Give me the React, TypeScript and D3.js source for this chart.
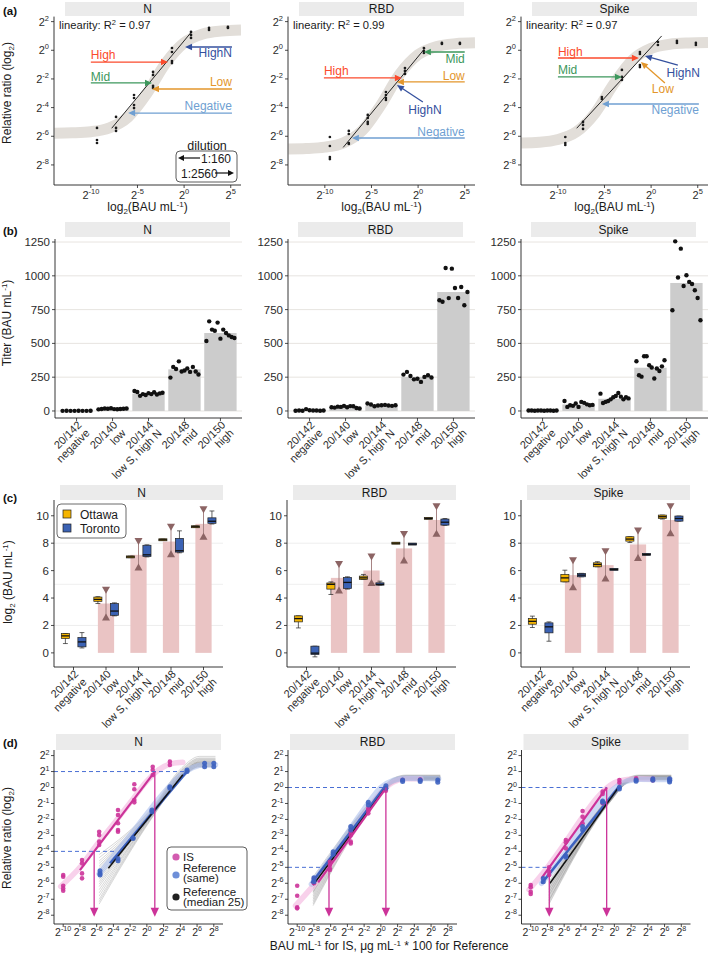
import React from 'react';
import * as d3 from 'd3';

const FONT = "'Liberation Sans', Arial, Helvetica, sans-serif";
const TXT = '#2b2b2b';
const AX = '#1f1f1f';

/* ---------------- shared categories ---------------- */
const facetNames = ['N', 'RBD', 'Spike'];
const sampleIds = ['20/142', '20/140', '20/144', '20/148', '20/150'];
const sampleNames = ['negative', 'low', 'low S, high N', 'mid', 'high'];

/* ---------------- (a) calibration curves ---------------- */
const aR2 = ['0.97', '0.99', '0.97'];
const aXTicks = [-10, -5, 0, 5];
const aYTicks = [2, 0, -2, -4, -6, -8];
const aPointsN = [
  [-9.34, -5.42], [-9.34, -6.26], [-9.34, -6.47],
  [-7.3, -4.65], [-7.3, -5.42], [-7.3, -5.63],
  [-5.37, -3.12], [-5.37, -3.33], [-5.37, -3.82], [-5.37, -4.03],
  [-3.33, -1.51], [-3.33, -1.72], [-3.33, -2.49], [-3.33, -2.63],
  [-1.3, 0.16], [-1.3, -0.12], [-1.3, -0.75], [-1.3, -0.89],
  [0.74, 1.28], [0.74, 1.07], [0.74, 0.86],
  [2.67, 1.56], [2.67, 1.42],
  [4.7, 1.63], [4.7, 1.56],
];
const aPointsRBD = [
  [-9.46, -6.05], [-9.46, -6.68], [-9.46, -7.45], [-9.46, -7.59],
  [-7.43, -5.63], [-7.43, -5.84], [-7.43, -6.47], [-7.43, -6.54],
  [-5.4, -4.51], [-5.4, -4.72], [-5.4, -5.0], [-5.4, -5.14],
  [-3.45, -2.91], [-3.45, -3.12], [-3.45, -3.33], [-3.45, -3.47],
  [-1.41, -1.24], [-1.41, -1.44], [-1.41, -1.65],
  [0.62, 0.16], [0.62, -0.05], [0.62, -0.19],
  [2.55, 0.51], [2.55, 0.44],
  [4.48, 0.51], [4.48, 0.44],
];
const aPointsSpike = [
  [-9.2, -6.05], [-9.2, -6.47], [-9.2, -6.61],
  [-7.3, -5.0], [-7.3, -5.21], [-7.3, -5.49],
  [-5.28, -3.26], [-5.28, -3.4],
  [-3.13, -1.37], [-3.13, -1.86], [-3.13, -2.07],
  [-1.2, -0.12], [-1.2, -0.26], [-1.2, -1.03], [-1.2, -1.17],
  [0.73, 0.58], [0.73, 0.37],
  [2.77, 0.65], [2.77, 0.51],
  [4.8, 0.51], [4.8, 0.37],
];
const aBandN = [[-13.9, -5.79], [-12, -5.76], [-10, -5.68], [-8, -5.41], [-6, -4.66], [-4, -3.03], [-2, -0.92], [0, 0.52], [2, 1.14], [4, 1.35], [6.1, 1.42]];
const aBandRBD = [[-13.9, -6.89], [-12, -6.86], [-10, -6.76], [-8, -6.46], [-6, -5.61], [-4, -3.83], [-2, -1.69], [0, -0.31], [2, 0.27], [4, 0.46], [6.1, 0.52]];
const aBandSpike = [[-13.9, -6.47], [-12, -6.42], [-10, -6.23], [-8, -5.69], [-6, -4.38], [-4, -2.35], [-2, -0.67], [0, 0.13], [2, 0.42], [4, 0.51], [6.1, 0.54]];
// linear fit: slope, intercept, xmin, xmax
const aFitN = [0.786, 0.66, -7.76, 0.81];
const aFitRBD = [0.789, -0.44, -8.03, 0.73];
const aFitSpike = [0.707, 0.2, -7.98, 1.13];
const aArrowNames = ['High', 'HighN', 'Mid', 'Low', 'Negative'];
const aArrowColors = ['#fb4a2c', '#34509e', '#3d975c', '#e3962b', '#6f9fd2'];
// tail x, tail y, tip x, tip y, label x, label y, anchor
const aArrowsN = [
  [-10.0, -0.82, -1.73, -0.82, -10.0, -0.33, 'start'],
  [5.13, 0.23, 0.1, 0.23, 5.13, -0.19, 'end'],
  [-10.0, -2.28, -3.44, -2.28, -10.0, -1.86, 'start'],
  [5.13, -2.7, -3.44, -2.7, 5.13, -2.21, 'end'],
  [5.13, -4.38, -6.0, -4.38, 5.13, -3.89, 'end'],
];
const aArrowsRBD = [
  [-10.1, -1.93, -1.74, -1.93, -10.1, -1.44, 'start'],
  [0.51, -3.61, -2.27, -2.42, 0.73, -4.17, 'middle'],
  [5.0, -0.12, 0.62, -0.12, 5.0, -0.6, 'end'],
  [5.0, -2.21, -2.27, -2.21, 5.0, -1.79, 'end'],
  [5.0, -6.12, -7.1, -6.12, 5.0, -5.7, 'end'],
];
const aArrowsSpike = [
  [-9.99, -0.54, -1.31, -0.54, -9.99, -0.12, 'start'],
  [2.87, -1.03, -0.66, -0.4, 5.23, -1.58, 'end'],
  [-9.99, -1.86, -3.13, -1.86, -9.99, -1.37, 'start'],
  [1.48, -2.28, -1.09, -0.82, 1.26, -2.7, 'middle'],
  [5.12, -3.75, -5.27, -3.75, 5.12, -4.17, 'end'],
];
const aDilution = ['1:160', '1:2560'];

/* ---------------- (b) titers ---------------- */
const bYTicks = [0, 250, 500, 750, 1000, 1250];
const bBarN = [2, 15, 128, 308, 577];
const bBarRBD = [3, 25, 38, 252, 880];
const bBarSpike = [3, 48, 90, 320, 947];
const bPtsN = [
  [1, 2, 1, 1, 2, 1, 1, 2],
  [12, 15, 18, 16, 20, 14, 13, 15, 16, 18],
  [148, 140, 112, 125, 118, 132, 125, 138, 122, 130, 135],
  [247, 326, 310, 367, 292, 299, 315, 289, 326, 292, 270],
  [518, 663, 602, 594, 654, 535, 602, 577, 559, 547, 540],
];
const bPtsRBD = [
  [2, 3, 2, 14, 5, 3, 4, 2, 3],
  [28, 25, 32, 30, 38, 28, 36, 35, 22, 18],
  [55, 48, 35, 40, 42, 45, 40, 38, 42],
  [269, 289, 259, 234, 238, 215, 252, 264, 248],
  [819, 808, 1058, 835, 1053, 910, 836, 917, 782, 880],
];
const bPtsSpike = [
  [3, 3, 2, 4, 3, 2, 3, 3, 2, 3],
  [74, 30, 42, 38, 55, 30, 67, 60, 49, 42, 45],
  [128, 59, 67, 74, 86, 101, 111, 133, 106, 86, 101, 93],
  [368, 264, 254, 405, 405, 338, 322, 240, 314, 296, 330, 375],
  [745, 1255, 987, 1201, 925, 1004, 955, 940, 893, 836, 671],
];

/* ---------------- (c) log2 titers by site ---------------- */
const cYTicks = [0, 2, 4, 6, 8, 10];
const cGrid = [2, 5, 8];
const cSites = ['Ottawa', 'Toronto'];
const cBarN = [null, 3.6, 7.15, 8.12, 9.41];
const cTriHiN = [null, 4.56, 8.12, 9.17, 10.43];
const cTriLoN = [null, 2.62, 6.26, 7.23, 8.51];
const cOttN = [[0.68, 1.05, 1.24, 1.41, 1.41], [3.6, 3.76, 3.9, 4.07, 4.1], [6.95, 6.97, 7.0, 7.03, 7.05], [8.2, 8.22, 8.25, 8.28, 8.3], [9.15, 9.18, 9.2, 9.22, 9.25]];
const cTorN = [[0.36, 0.44, 0.8, 1.12, 1.48], [2.7, 2.74, 3.05, 3.6, 3.65], [7.0, 7.03, 7.15, 7.85, 7.88], [7.3, 7.35, 7.45, 8.35, 8.9], [9.4, 9.45, 9.6, 9.85, 10.35]];
const cBarRBD = [null, 5.47, 6.01, 7.62, 9.69];
const cTriHiRBD = [null, 6.45, 7.0, 8.64, 10.66];
const cTriLoRBD = [null, 4.58, 5.14, 6.77, 8.72];
const cOttRBD = [[1.82, 2.26, 2.5, 2.7, 2.7], [4.26, 4.65, 5.0, 5.1, 5.18], [5.36, 5.36, 5.47, 5.6, 5.72], [7.97, 7.98, 8.0, 8.02, 8.03], [9.77, 9.78, 9.81, 9.84, 9.85]];
const cTorRBD = [[-0.29, -0.12, -0.02, 0.49, 0.49], [4.65, 4.7, 5.14, 5.5, 5.55], [4.94, 4.94, 5.0, 5.11, 5.23], [7.91, 7.92, 7.93, 7.95, 7.96], [9.3, 9.32, 9.53, 9.76, 9.8]];
const cBarSpike = [null, 5.67, 6.4, 7.91, 9.69];
const cTriHiSpike = [null, 6.72, 7.37, 8.88, 10.66];
const cTriLoSpike = [null, 4.82, 5.47, 6.96, 8.76];
const cOttSpike = [[1.85, 2.09, 2.3, 2.51, 2.68], [5.18, 5.18, 5.47, 5.72, 6.03], [6.28, 6.28, 6.45, 6.57, 6.65], [8.05, 8.15, 8.3, 8.47, 8.47], [9.76, 9.81, 9.93, 10.05, 10.05]];
const cTorSpike = [[0.85, 1.46, 1.9, 2.19, 2.26], [5.55, 5.55, 5.67, 5.8, 5.8], [6.07, 6.08, 6.09, 6.1, 6.11], [7.16, 7.17, 7.18, 7.2, 7.21], [9.61, 9.61, 9.8, 9.98, 9.98]];

/* ---------------- (d) IS vs reference ---------------- */
const dYTicks = [2, 1, 0, -1, -2, -3, -4, -5, -6, -7, -8];
const dXTicks = [-10, -8, -6, -4, -2, 0, 2, 4, 6, 8];
const dIsPtsN = [
  [-10, -5.48], [-10, -5.59], [-10, -6.15], [-10, -6.32], [-10, -6.47],
  [-7.75, -4.54], [-7.75, -4.75], [-7.75, -5.38], [-7.75, -5.69],
  [-5.7, -2.77], [-5.7, -2.98], [-5.7, -3.39], [-5.7, -3.6],
  [-3.45, -1.41], [-3.45, -1.72], [-3.45, -2.24], [-3.45, -2.66], [-3.45, -2.77],
  [-1.5, 0.2], [-1.5, -0.11], [-1.5, -0.78], [-1.5, -0.93],
  [0.7, 1.3], [0.7, 1.1], [0.7, 0.78],
  [2.75, 1.62], [2.75, 1.41],
];
const dRefPtsN = [
  [-5.6, -5.21], [-5.6, -5.38], [-5.6, -5.48],
  [-3.45, -4.44], [-3.45, -4.58],
  [-1.65, -3.14], [-1.65, -3.2],
  [0.6, -1.41], [0.6, -1.52],
  [2.75, 0.05], [2.75, -0.05],
  [4.8, 1.1], [4.8, 1.0],
  [6.9, 1.52], [6.9, 1.3],
  [8.0, 1.52], [8.0, 1.3],
];
const dIsPtsRBD = [
  [-10, -6.15], [-10, -6.78], [-10, -7.51], [-10, -7.57],
  [-8, -5.7], [-8, -6.0],
  [-6.1, -4.65], [-6.1, -4.86], [-6.1, -5.06], [-6.1, -5.17],
  [-3.6, -2.77], [-3.6, -2.98], [-3.6, -3.39], [-3.6, -3.5],
  [-1.5, -1.3], [-1.5, -1.45], [-1.5, -1.62],
  [0.6, -0.05], [0.6, -0.2],
  [2.6, 0.47],
  [4.7, 0.47], [4.7, 0.5],
];
const dRefPtsRBD = [
  [-8, -5.65], [-8, -5.8], [-8, -5.9],
  [-5.7, -4.02], [-5.7, -4.18],
  [-3.6, -2.45], [-3.6, -2.66],
  [-1.5, -0.93], [-1.5, -1.1],
  [0.6, 0.11], [0.6, -0.05],
  [2.6, 0.47], [2.6, 0.37],
  [4.7, 0.47], [4.7, 0.37],
  [6.8, 0.47], [6.8, 0.33],
];
const dIsPtsSpike = [
  [-10, -6.11], [-10, -6.25], [-10, -6.53], [-10, -6.67],
  [-7.8, -5.0], [-7.8, -5.27], [-7.8, -5.48],
  [-5.8, -3.29], [-5.8, -3.43], [-5.8, -3.81],
  [-3.8, -1.47], [-3.8, -1.83], [-3.8, -2.24],
  [-1.4, -0.26], [-1.4, -0.4], [-1.4, -0.99],
  [0.6, 0.47], [0.6, 0.3],
  [2.6, 0.57], [2.6, 0.5],
  [4.6, 0.55], [4.6, 0.45],
  [6.6, 0.5],
];
const dRefPtsSpike = [
  [-8.5, -5.9], [-8.5, -5.7],
  [-5.8, -4.27], [-5.8, -4.37],
  [-3.8, -2.45], [-3.8, -2.66],
  [-1.4, -0.85], [-1.4, -0.93],
  [0.6, 0.01], [0.6, -0.09],
  [2.6, 0.47], [2.6, 0.4],
  [4.6, 0.55], [4.6, 0.45],
  [6.6, 0.55], [6.6, 0.35], [6.6, 0.45],
];
const dIsBandN = [[-10.3, -6.2], [-8, -5.0], [-6, -3.6], [-4, -2.3], [-2, -0.95], [0, 0.4], [1.5, 1.15], [3, 1.5], [4.3, 1.58]];
const dRefBandN = [[-5.7, -5.4], [-4, -4.3], [-2, -3.0], [0, -1.65], [2, -0.35], [4, 0.75], [5.5, 1.25], [7, 1.42], [8.2, 1.42]];
const dIsBandRBD = [[-10.2, -7.4], [-8, -6.1], [-6, -4.8], [-4, -3.3], [-2, -1.7], [0, -0.3], [1.5, 0.35], [3, 0.55], [4.8, 0.55]];
const dRefBandRBD = [[-8.3, -6.05], [-6, -4.4], [-4, -2.85], [-2, -1.35], [0, 0], [1.5, 0.45], [3, 0.58], [6.9, 0.55]];
const dIsBandSpike = [[-10.2, -6.4], [-8, -5.0], [-6, -3.55], [-4, -2.0], [-2, -0.6], [0, 0.3], [1.5, 0.5], [3, 0.55], [4.6, 0.52]];
const dRefBandSpike = [[-8.7, -6.0], [-6, -4.2], [-4, -2.6], [-2, -1.15], [0, -0.05], [1.5, 0.4], [3, 0.52], [6.7, 0.5]];
// linear fits: slope, intercept, xmin, xmax
const dIsFit = [[0.69, 0.345, -8.0, 0.95], [0.73, -0.47, -7.5, 0.6], [0.729, 0.67, -8.7, -0.9]];
const dRefFit = [[0.626, -1.99, -4.4, 4.8], [0.6875, -0.29, -8.3, 0.5], [0.654, -0.32, -8.7, 0.5]];
const dMedFit = [[0.657, -2.03, -4.6, 4.3], [0.701, -0.43, -8.1, 0.6], [0.733, -0.35, -7.7, 0.47]];
// cut-off ratios, read-out concentrations, end of dashed guides
const dCutY = [[-4, 1], [-5, 0], [-5, 0]];
const dCutX = [[-6.3, 0.95], [-6.2, 0.6], [-7.78, -0.92]];
const dDashEnd = [[-3.6, 4.75], [-7.1, 0.55], [-7.9, -0.92]];
// 20 reference curves (median 25): knots x, y at start / convergence / plateau
const dSpagX = [[-5.7, 0.5, 4.2, 6.3, 8.2], [-8.1, -1, 1.5, 3, 7.1], [-7.8, -0.5, 1.5, 3, 6.8]];
const dSpagDrop = [0.7, 0.2, 0.2];
const dSpagLow = [
  [-4.2, -4.4, -4.6, -4.75, -4.9, -5.0, -5.15, -5.3, -5.45, -5.6, -5.75, -5.9, -6.05, -6.2, -6.4, -6.6, -6.8, -7.0, -7.15, -7.3],
  [-5.6, -5.75, -5.9, -6.0, -6.1, -6.2, -6.3, -6.35, -6.4, -6.5, -6.55, -6.6, -6.7, -6.8, -6.9, -7.0, -7.1, -7.2, -7.3, -7.4],
  [-5.9, -6.0, -6.1, -6.15, -6.2, -6.3, -6.35, -6.4, -6.5, -6.55, -6.6, -6.7, -6.75, -6.8, -6.9, -7.0, -7.05, -7.1, -7.2, -7.3],
];
const dSpagMid = [
  [-1.35, -1.4, -1.45, -1.5, -1.5, -1.55, -1.55, -1.6, -1.6, -1.65, -1.65, -1.7, -1.7, -1.75, -1.8, -1.8, -1.85, -1.9, -1.95, -2.0],
  [-0.75, -0.78, -0.8, -0.83, -0.85, -0.88, -0.9, -0.92, -0.95, -0.97, -1.0, -1.0, -1.02, -1.05, -1.07, -1.1, -1.12, -1.15, -1.17, -1.2],
  [-0.5, -0.52, -0.55, -0.57, -0.6, -0.62, -0.64, -0.66, -0.68, -0.7, -0.72, -0.74, -0.76, -0.78, -0.8, -0.82, -0.84, -0.86, -0.88, -0.9],
];
const dSpagHigh = [
  [1.95, 1.85, 1.8, 1.75, 1.7, 1.65, 1.6, 1.6, 1.55, 1.55, 1.5, 1.5, 1.45, 1.45, 1.4, 1.4, 1.35, 1.35, 1.3, 1.3],
  [0.78, 0.75, 0.72, 0.7, 0.68, 0.66, 0.65, 0.63, 0.62, 0.6, 0.59, 0.58, 0.56, 0.55, 0.54, 0.52, 0.5, 0.49, 0.47, 0.45],
  [0.78, 0.75, 0.73, 0.71, 0.69, 0.67, 0.66, 0.64, 0.63, 0.62, 0.6, 0.59, 0.58, 0.56, 0.55, 0.54, 0.52, 0.5, 0.49, 0.47],
];
const dLegend = [['IS'], ['Reference', '(same)'], ['Reference', '(median 25)']];

/* ---------------- layout ---------------- */
const aLefts = [54, 288, 521];
const bLefts = [55, 288, 521];
const cLefts = [54, 287, 521];
const dLefts = [54, 288, 521.5];

const MAG = '#cc3399';
const BLUE = '#3d62c0';

function Strip({ x0, x1, y0, y1, label }: any) {
  return (
    <g>
      <rect x={x0} y={y0} width={x1 - x0} height={y1 - y0} fill="#ebebeb" />
      <text x={(x0 + x1) / 2} y={(y0 + y1) / 2 + 4.3} textAnchor="middle" fontSize={12} fill="#1a1a1a">{label}</text>
    </g>
  );
}

function Pow2({ x, y, e, anchor = 'middle', fs = 11 }: any) {
  return (
    <text x={x} y={y} textAnchor={anchor} fontSize={fs} fill={TXT}>
      2<tspan dy={-fs * 0.45} fontSize={fs * 0.68}>{String(e)}</tspan>
    </text>
  );
}

function Arrow({ x1, y1, x2, y2, color, w = 1.3, len = 7, half = 3.2 }: any) {
  const dx = x2 - x1, dy = y2 - y1;
  const L = Math.hypot(dx, dy) || 1;
  const ux = dx / L, uy = dy / L;
  const bx = x2 - ux * len, by = y2 - uy * len;
  const nx = -uy, ny = ux;
  return (
    <g>
      <line x1={x1} y1={y1} x2={bx + ux * 0.5} y2={by + uy * 0.5} stroke={color} strokeWidth={w} />
      <polygon points={`${x2},${y2} ${bx + nx * half},${by + ny * half} ${bx - nx * half},${by - ny * half}`} fill={color} />
    </g>
  );
}

function RotLabel({ x, y, lines }: any) {
  return (
    <g transform={`translate(${x},${y}) rotate(-45)`}>
      {lines.map((t: string, i: number) => (
        <text key={i} x={0} y={8 + i * 11.5} textAnchor="end" fontSize={11} fill={TXT}>{t}</text>
      ))}
    </g>
  );
}

/* ================= Panel (a) ================= */
function PanelA({ fi }: { fi: number }) {
  const L = aLefts[fi];
  const W = 187;
  const x = d3.scaleLinear().domain([-13.95, 6.1]).range([L, L + W]);
  const y = d3.scaleLinear().domain([-9.4, 2.35]).range([185, 16.6]);
  const pts = [aPointsN, aPointsRBD, aPointsSpike][fi];
  const band = [aBandN, aBandRBD, aBandSpike][fi];
  const fit = [aFitN, aFitRBD, aFitSpike][fi];
  const arrows = [aArrowsN, aArrowsRBD, aArrowsSpike][fi];
  const curve = d3.line<any>().x((d) => x(d[0])).y((d) => y(d[1])).curve(d3.curveMonotoneX);
  const fitLine = d3.line<number>().x((v) => x(v)).y((v) => y(fit[0] * v + fit[1]))([fit[2], fit[3]]);
  const cid = `clipA${fi}`;
  return (
    <g>
      <Strip x0={L + 11} x1={L + 176} y0={2} y1={16} label={facetNames[fi]} />
      <defs>
        <clipPath id={cid}><rect x={L} y={16.6} width={W} height={168.4} /></clipPath>
      </defs>
      <path d={curve(band) || ''} fill="none" stroke="#e2ded9" strokeWidth={11} clipPath={`url(#${cid})`} />
      {pts.map((p, i) => (
        <circle key={i} cx={x(p[0])} cy={y(p[1])} r={1.35} fill="#1a1a1a" />
      ))}
      <path d={fitLine || ''} stroke="#111" strokeWidth={0.9} fill="none" />
      {arrows.map((a: any, i: number) => (
        <g key={i}>
          <Arrow x1={x(a[0])} y1={y(a[1])} x2={x(a[2])} y2={y(a[3])} color={aArrowColors[i]} />
          <text x={x(a[4])} y={y(a[5]) + 4.3} textAnchor={a[6]} fontSize={12} fill={aArrowColors[i]}>{aArrowNames[i]}</text>
        </g>
      ))}
      <text x={L + 5} y={29} fontSize={11.2} fill="#1a1a1a">
        linearity: R<tspan dy={-4} fontSize={7.5}>2</tspan><tspan dy={4}> = {aR2[fi]}</tspan>
      </text>
      {/* axes */}
      <line x1={L} x2={L} y1={16.6} y2={185} stroke={AX} strokeWidth={0.9} />
      <line x1={L} x2={L + W} y1={185} y2={185} stroke={AX} strokeWidth={0.9} />
      {aYTicks.map((t) => (
        <g key={t}>
          <line x1={L - 3} x2={L} y1={y(t)} y2={y(t)} stroke={AX} strokeWidth={0.8} />
          <Pow2 x={L - 5} y={y(t) + 4} e={t} anchor="end" fs={11} />
        </g>
      ))}
      {aXTicks.map((t) => (
        <g key={t}>
          <line x1={x(t)} x2={x(t)} y1={185} y2={188} stroke={AX} strokeWidth={0.8} />
          <Pow2 x={x(t)} y={199} e={t} fs={11} />
        </g>
      ))}
      <text x={L + W / 2} y={211} textAnchor="middle" fontSize={12} fill="#1a1a1a">
        log<tspan dy={3} fontSize={8}>2</tspan><tspan dy={-3}>(BAU mL</tspan><tspan dy={-4} fontSize={8}>-1</tspan><tspan dy={4}>)</tspan>
      </text>
      {fi === 0 && (
        <g>
          <text x={207} y={149.5} textAnchor="middle" fontSize={12.5} fill="#1a1a1a">dilution</text>
          <rect x={176} y={151} width={61} height={31} rx={4} fill="#fff" stroke="#333" strokeWidth={0.8} />
          <Arrow x1={200} y1={158} x2={178} y2={158} color="#111" w={1.2} len={6} half={3} />
          <text x={201} y={162.5} fontSize={12} fill="#1a1a1a">{aDilution[0]}</text>
          <text x={181} y={177.5} fontSize={12} fill="#1a1a1a">{aDilution[1]}</text>
          <Arrow x1={215} y1={173} x2={234} y2={173} color="#111" w={1.2} len={6} half={3} />
        </g>
      )}
    </g>
  );
}

/* ================= Panel (b) ================= */
function PanelB({ fi }: { fi: number }) {
  const L = bLefts[fi];
  const W = 187;
  const x = d3.scalePoint<string>().domain(sampleIds).range([L, L + W]).padding(0.6);
  const step = x.step();
  const y = d3.scaleLinear().domain([-52, 1265]).range([418, 240]);
  const bars = [bBarN, bBarRBD, bBarSpike][fi];
  const pts = [bPtsN, bPtsRBD, bPtsSpike][fi];
  return (
    <g>
      <Strip x0={L + 10} x1={L + 175} y0={222} y1={237} label={facetNames[fi]} />
      {bYTicks.map((t) => (
        <line key={t} x1={L} x2={L + W} y1={y(t)} y2={y(t)} stroke="#e4e1dd" strokeWidth={0.9} />
      ))}
      {sampleIds.map((id, i) => (
        <rect key={id} x={(x(id) as number) - 0.45 * step} y={y(bars[i])} width={0.9 * step} height={y(0) - y(bars[i])} fill="#cccccc" />
      ))}
      {sampleIds.map((id, i) =>
        pts[i].map((v, j) => {
          const n = pts[i].length;
          const cx = (x(id) as number) + (j / (n - 1) - 0.5) * 0.78 * step;
          return <circle key={id + j} cx={cx} cy={y(v)} r={2.2} fill="#111" />;
        })
      )}
      <line x1={L} x2={L} y1={239} y2={418} stroke={AX} strokeWidth={0.9} />
      <line x1={L} x2={L + W} y1={418} y2={418} stroke={AX} strokeWidth={0.9} />
      {bYTicks.map((t) => (
        <g key={t}>
          <line x1={L - 3} x2={L} y1={y(t)} y2={y(t)} stroke={AX} strokeWidth={0.8} />
          <text x={L - 5} y={y(t) + 4} textAnchor="end" fontSize={11.5} fill={TXT}>{t}</text>
        </g>
      ))}
      {sampleIds.map((id, i) => (
        <g key={id}>
          <line x1={x(id)} x2={x(id)} y1={418} y2={421} stroke={AX} strokeWidth={0.8} />
          <RotLabel x={x(id)} y={420} lines={[id, sampleNames[i]]} />
        </g>
      ))}
    </g>
  );
}

/* ================= Panel (c) ================= */
function Box({ cx, s, y, fill, w }: any) {
  const [lo, q1, med, q3, hi] = s;
  let yt = y(q3), yb = y(q1);
  if (yb - yt < 2) { const m = (yt + yb) / 2; yt = m - 1; yb = m + 1; }
  return (
    <g>
      <line x1={cx} x2={cx} y1={y(hi)} y2={y(lo)} stroke="#222" strokeWidth={0.7} />
      <line x1={cx - w * 0.3} x2={cx + w * 0.3} y1={y(hi)} y2={y(hi)} stroke="#222" strokeWidth={0.7} />
      <line x1={cx - w * 0.3} x2={cx + w * 0.3} y1={y(lo)} y2={y(lo)} stroke="#222" strokeWidth={0.7} />
      <rect x={cx - w / 2} y={yt} width={w} height={yb - yt} fill={fill} stroke="#222" strokeWidth={0.7} />
      <line x1={cx - w / 2} x2={cx + w / 2} y1={y(med)} y2={y(med)} stroke="#111" strokeWidth={1.3} />
    </g>
  );
}

function PanelC({ fi }: { fi: number }) {
  const L = cLefts[fi];
  const W = 169;
  const x = d3.scalePoint<string>().domain(sampleIds).range([L, L + W]).padding(0.6);
  const step = x.step();
  const y = d3.scaleLinear().domain([-1.03, 11.15]).range([667, 500]);
  const bars = [cBarN, cBarRBD, cBarSpike][fi];
  const hi = [cTriHiN, cTriHiRBD, cTriHiSpike][fi];
  const lo = [cTriLoN, cTriLoRBD, cTriLoSpike][fi];
  const ott = [cOttN, cOttRBD, cOttSpike][fi];
  const tor = [cTorN, cTorRBD, cTorSpike][fi];
  const tri = '#8c6464';
  return (
    <g>
      <Strip x0={L + 6} x1={L + 169} y0={485} y1={500} label={facetNames[fi]} />
      {cGrid.map((t) => (
        <line key={t} x1={L} x2={L + W} y1={y(t)} y2={y(t)} stroke="#ececec" strokeWidth={0.9} />
      ))}
      {sampleIds.map((id, i) =>
        bars[i] == null ? null : (
          <rect key={id} x={(x(id) as number) - 0.25 * step} y={y(bars[i] as number)} width={0.5 * step} height={y(0) - y(bars[i] as number)} fill="#eac4c4" />
        )
      )}
      {sampleIds.map((id, i) =>
        hi[i] == null ? null : (
          <g key={id}>
            <line x1={x(id)} x2={x(id)} y1={y(hi[i] as number)} y2={y(lo[i] as number)} stroke="#a78484" strokeWidth={1} />
            <polygon
              points={`${(x(id) as number) - 4},${y(hi[i] as number) - 3.5} ${(x(id) as number) + 4},${y(hi[i] as number) - 3.5} ${x(id)},${y(hi[i] as number) + 3.5}`}
              fill={tri}
            />
            <polygon
              points={`${(x(id) as number) - 4},${y(lo[i] as number) + 3.5} ${(x(id) as number) + 4},${y(lo[i] as number) + 3.5} ${x(id)},${y(lo[i] as number) - 3.5}`}
              fill={tri}
            />
          </g>
        )
      )}
      {sampleIds.map((id, i) => (
        <g key={id}>
          <Box cx={(x(id) as number) - 0.25 * step} s={ott[i]} y={y} fill="#f4b400" w={0.25 * step} />
          <Box cx={(x(id) as number) + 0.26 * step} s={tor[i]} y={y} fill="#3b62b4" w={0.25 * step} />
        </g>
      ))}
      <line x1={L} x2={L} y1={500} y2={667} stroke={AX} strokeWidth={0.9} />
      <line x1={L} x2={L + W} y1={667} y2={667} stroke={AX} strokeWidth={0.9} />
      {cYTicks.map((t) => (
        <g key={t}>
          <line x1={L - 3} x2={L} y1={y(t)} y2={y(t)} stroke={AX} strokeWidth={0.8} />
          <text x={L - 5} y={y(t) + 4} textAnchor="end" fontSize={11.5} fill={TXT}>{t}</text>
        </g>
      ))}
      {sampleIds.map((id, i) => (
        <g key={id}>
          <line x1={x(id)} x2={x(id)} y1={667} y2={670} stroke={AX} strokeWidth={0.8} />
          <RotLabel x={x(id)} y={669} lines={[id, sampleNames[i]]} />
        </g>
      ))}
      {fi === 0 && (
        <g>
          <rect x={57} y={504} width={69} height={34} rx={4} fill="#fff" stroke="#444" strokeWidth={0.8} />
          <rect x={63} y={510} width={8} height={8} fill="#f4b400" stroke="#222" strokeWidth={0.7} />
          <text x={80} y={518.5} fontSize={12} fill="#1a1a1a">{cSites[0]}</text>
          <rect x={63} y={524} width={8} height={8} fill="#3b62b4" stroke="#222" strokeWidth={0.7} />
          <text x={80} y={532.5} fontSize={12} fill="#1a1a1a">{cSites[1]}</text>
        </g>
      )}
    </g>
  );
}

/* ================= Panel (d) ================= */
function PanelD({ fi }: { fi: number }) {
  const L = dLefts[fi];
  const W = 169;
  const x = d3.scaleLinear().domain([-11.1, 9.1]).range([L, L + W]);
  const y = d3.scaleLinear().domain([-8.55, 2.35]).range([924, 750]);
  const curve = d3.line<any>().x((d) => x(d[0])).y((d) => y(d[1])).curve(d3.curveMonotoneX);
  const fitPath = (f: number[]) => d3.line<number>().x((v) => x(v)).y((v) => y(f[0] * v + f[1]))([f[2], f[3]]) || '';
  const isPts = [dIsPtsN, dIsPtsRBD, dIsPtsSpike][fi];
  const refPts = [dRefPtsN, dRefPtsRBD, dRefPtsSpike][fi];
  const isBand = [dIsBandN, dIsBandRBD, dIsBandSpike][fi];
  const refBand = [dRefBandN, dRefBandRBD, dRefBandSpike][fi];
  const kx = dSpagX[fi];
  const spag = dSpagLow[fi].map((lo, i) => [
    [kx[0], lo],
    [kx[1], dSpagMid[fi][i]],
    [kx[2], dSpagHigh[fi][i] - dSpagDrop[fi]],
    [kx[3], dSpagHigh[fi][i]],
    [kx[4], dSpagHigh[fi][i]],
  ]);
  const cid = `clipD${fi}`;
  return (
    <g>
      <Strip x0={L + 2} x1={L + 167} y0={734} y1={750} label={facetNames[fi]} />
      <defs>
        <clipPath id={cid}><rect x={L} y={750} width={W} height={174} /></clipPath>
      </defs>
      <g clipPath={`url(#${cid})`}>
        {spag.map((s, i) => (
          <path key={i} d={curve(s) || ''} fill="none" stroke="#707070" strokeOpacity={0.42} strokeWidth={0.65} />
        ))}
        <path d={curve(isBand) || ''} fill="none" stroke="#f5bde3" strokeOpacity={0.7} strokeWidth={5.5} strokeLinecap="round" />
        <path d={curve(refBand) || ''} fill="none" stroke="#aebfec" strokeOpacity={0.6} strokeWidth={5.5} strokeLinecap="round" />
        <path d={fitPath(dRefFit[fi])} fill="none" stroke={BLUE} strokeWidth={2.6} />
        <path d={fitPath(dMedFit[fi])} fill="none" stroke="#111" strokeWidth={1.5} />
        <path d={fitPath(dIsFit[fi])} fill="none" stroke={MAG} strokeWidth={2.2} />
        {isPts.map((p, i) => (
          <circle key={'i' + i} cx={x(p[0])} cy={y(p[1])} r={2.3} fill={MAG} fillOpacity={0.9} />
        ))}
        {refPts.map((p, i) => (
          <circle key={'r' + i} cx={x(p[0])} cy={y(p[1])} r={2.5} fill={BLUE} fillOpacity={0.9} />
        ))}
      </g>
      {dCutY[fi].map((cy, i) => (
        <line key={'d' + i} x1={L} x2={x(dDashEnd[fi][i])} y1={y(cy)} y2={y(cy)} stroke="#4a6fd4" strokeWidth={1} strokeDasharray="4,3" />
      ))}
      {dCutY[fi].map((cy, i) => (
        <Arrow key={'a' + i} x1={x(dCutX[fi][i])} y1={y(cy)} x2={x(dCutX[fi][i])} y2={y(-8.1)} color={MAG} w={1.3} len={9} half={4.2} />
      ))}
      <line x1={L} x2={L} y1={750} y2={924} stroke={AX} strokeWidth={0.9} />
      <line x1={L} x2={L + W} y1={924} y2={924} stroke={AX} strokeWidth={0.9} />
      {dYTicks.map((t) => (
        <g key={t}>
          <line x1={L - 3} x2={L} y1={y(t)} y2={y(t)} stroke={AX} strokeWidth={0.8} />
          <Pow2 x={L - 4.5} y={y(t) + 3.8} e={t} anchor="end" fs={10.5} />
        </g>
      ))}
      {dXTicks.map((t) => (
        <g key={t}>
          <line x1={x(t)} x2={x(t)} y1={924} y2={927} stroke={AX} strokeWidth={0.8} />
          <Pow2 x={x(t)} y={936} e={t} fs={10.5} />
        </g>
      ))}
      {fi === 0 && (
        <g>
          <rect x={167} y={847} width={80} height={63} rx={4} fill="#fff" stroke="#333" strokeWidth={0.8} />
          <circle cx={176} cy={857} r={3.6} fill="#d35cb0" />
          <text x={183} y={861} fontSize={11.5} fill="#1a1a1a">{dLegend[0][0]}</text>
          <circle cx={176} cy={875} r={3.6} fill="#6e8fd8" />
          <text x={183} y={871.5} fontSize={11.5} fill="#1a1a1a">{dLegend[1][0]}</text>
          <text x={183} y={882} fontSize={11.5} fill="#1a1a1a">{dLegend[1][1]}</text>
          <circle cx={176} cy={897} r={3.6} fill="#222" />
          <text x={183} y={895.5} fontSize={11.5} fill="#1a1a1a">{dLegend[2][0]}</text>
          <text x={183} y={906} fontSize={11.5} fill="#1a1a1a">{dLegend[2][1]}</text>
        </g>
      )}
    </g>
  );
}

export default function App() {
  return (
    <svg
      width={709}
      height={955}
      viewBox="0 0 709 955"
      style={{ position: 'absolute', left: 0, top: 0, background: '#fff' }}
      fontFamily={FONT}
    >
      <rect width={709} height={955} fill="#fff" />
      {/* panel tags */}
      <text x={3} y={15} fontSize={11.5} fontWeight="bold" fill="#111">(a)</text>
      <text x={3} y={235} fontSize={11.5} fontWeight="bold" fill="#111">(b)</text>
      <text x={3} y={502} fontSize={11.5} fontWeight="bold" fill="#111">(c)</text>
      <text x={3} y={747} fontSize={11.5} fontWeight="bold" fill="#111">(d)</text>

      {/* y-axis titles */}
      <text transform="translate(11,93) rotate(-90)" textAnchor="middle" fontSize={12} fill="#1a1a1a">
        Relative ratio (log<tspan dy={3} fontSize={8}>2</tspan><tspan dy={-3}>)</tspan>
      </text>
      <text transform="translate(11,323) rotate(-90)" textAnchor="middle" fontSize={12} fill="#1a1a1a">
        Titer (BAU mL<tspan dy={-4} fontSize={8}>-1</tspan><tspan dy={4}>)</tspan>
      </text>
      <text transform="translate(12,582) rotate(-90)" textAnchor="middle" fontSize={12} fill="#1a1a1a">
        log<tspan dy={3} fontSize={8}>2</tspan><tspan dy={-3}> (BAU mL</tspan><tspan dy={-4} fontSize={8}>-1</tspan><tspan dy={4}>)</tspan>
      </text>
      <text transform="translate(11,838) rotate(-90)" textAnchor="middle" fontSize={12} fill="#1a1a1a">
        Relative ratio (log<tspan dy={3} fontSize={8}>2</tspan><tspan dy={-3}>)</tspan>
      </text>

      {[0, 1, 2].map((fi) => <PanelA key={'a' + fi} fi={fi} />)}
      {[0, 1, 2].map((fi) => <PanelB key={'b' + fi} fi={fi} />)}
      {[0, 1, 2].map((fi) => <PanelC key={'c' + fi} fi={fi} />)}
      {[0, 1, 2].map((fi) => <PanelD key={'d' + fi} fi={fi} />)}

      <text x={389} y={950} textAnchor="middle" fontSize={12} fill="#1a1a1a">
        BAU mL<tspan dy={-4} fontSize={8}>-1</tspan><tspan dy={4}> for IS, μg mL</tspan><tspan dy={-4} fontSize={8}>-1</tspan><tspan dy={4}> * 100 for Reference</tspan>
      </text>
    </svg>
  );
}
